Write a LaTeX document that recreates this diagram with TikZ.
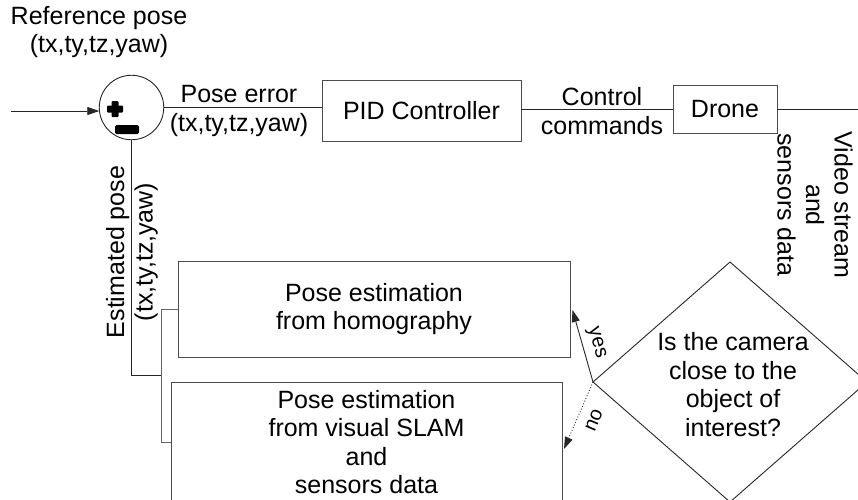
\documentclass[tikz,border=0pt]{standalone}
\usepackage{fontspec}
\setmainfont{Liberation Sans}
\usetikzlibrary{arrows.meta}
\begin{document}
\begin{tikzpicture}[x=1pt,y=-1pt,
  every node/.style={inner sep=0pt, outer sep=0pt, align=center, font=\fontsize{25}{28.5}\selectfont},
  box/.style={draw=black!70, line width=0.9pt, rectangle},
  conn/.style={draw=black!85, line width=0.9pt},
  tip/.style={-{Triangle[length=12pt,width=8pt]}},
  small/.style={font=\fontsize{20}{24}\selectfont}]
\useasboundingbox (0,0) rectangle (858,499);

% summing junction
\node[draw=black!85, line width=0.9pt, circle, minimum size=64.5pt] (circ) at (131.5,107.5) {};
\fill[black, rounded corners=1pt] (107,105.5) rectangle (123,112.5);
\fill[black, rounded corners=1pt] (111.5,101) rectangle (118.5,117);
\fill[black, rounded corners=1.5pt] (115,125) rectangle (139,134);

\node (ref) at (99,32) {Reference pose\\(tx,ty,tz,yaw)};
\coordinate (in) at (11,111);
\draw[conn, tip] (in) -- (in -| circ.west);

% forward path
\node[box, minimum width=199pt, minimum height=61pt] (pid) at (421.5,110.5) {PID Controller};
\node[box, minimum width=104pt, minimum height=48pt] (drone) at (725,109) {Drone};
\coordinate (out) at (858,109);
\draw[conn] (circ.east) -- (circ.east -| pid.west);
\draw[conn] (pid.east |- drone.west) -- (drone.west);
\draw[conn] (drone.east) -- (out);

\node (perr) at (239,111) {Pose error\\(tx,ty,tz,yaw)};
\node (ctrl) at (602,111) {Control\\commands};
\node[rotate=-90] (vid) at (815,205) {Video stream\\and\\sensors data};

% feedback
\node[rotate=90] (est) at (132,252) {Estimated pose\\(tx,ty,tz,yaw)};
\node[box, minimum width=392pt, minimum height=96pt] (homog) at (374,309) {Pose estimation\\from homography};
\node[box, minimum width=391pt, minimum height=120pt] (slam) at (366.5,442) {Pose estimation\\from visual SLAM\\and\\sensors data};
\coordinate (j1) at (161,375);
\draw[conn] (circ.south) |- (j1);
\draw[conn, draw=black!60] (homog.west) -- ++(-17,0) |- (slam.west);

% decision
\coordinate (dt) at (730,262);
\coordinate (dl) at (593,382);
\coordinate (db) at (730,502);
\coordinate (dr) at (867,382);
\draw[conn] (dt) -- (dr) -- (db) -- (dl) -- cycle;
\node (q) at (733,384.5) {Is the camera\\close to the\\object of\\interest?};

\coordinate (yt) at (572.5,310);
\coordinate (nt) at (564,449);
\draw[conn, tip] (dl) -- (yt);
\draw[conn, dotted, tip] (dl) -- (nt);
\node[small, rotate=-74.5] (yes) at (596,343) {yes};
\node[small, rotate=67] (no) at (594,420) {no};
\end{tikzpicture}
\end{document}
